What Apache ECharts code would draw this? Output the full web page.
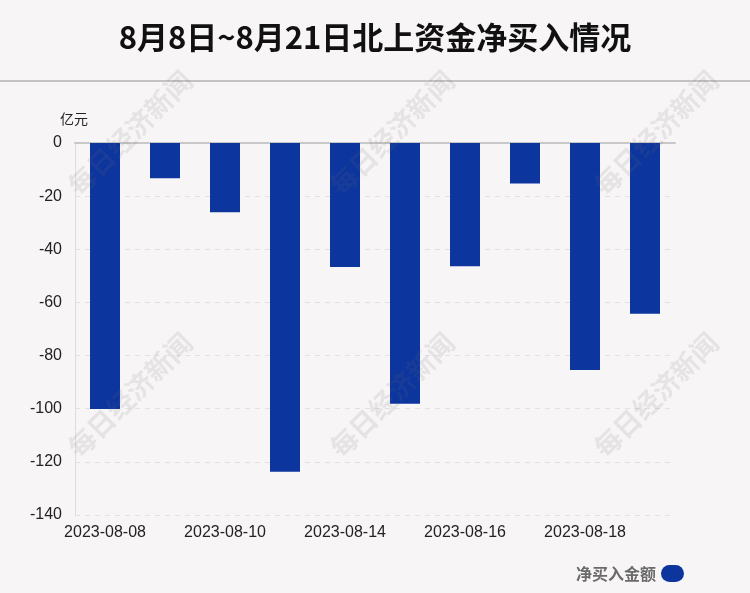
<!DOCTYPE html>
<html><head><meta charset="utf-8">
<script src="https://cdn.jsdelivr.net/npm/echarts@6/dist/echarts.min.js"></script>
<style>html,body{margin:0;padding:0;background:#f8f5f6;}#c{width:750px;height:593px;}</style>
</head><body><div id="c"></div>
<script>
const titleText = '8月8日~8月21日北上资金净买入情况';
const unitName = '亿元';
const seriesName = '净买入金额';
const categories = ['2023-08-08','2023-08-09','2023-08-10','2023-08-11','2023-08-14','2023-08-15','2023-08-16','2023-08-17','2023-08-18','2023-08-21'];
const netBuy = [-100.1, -13.3, -26.1, -123.7, -46.7, -98.1, -46.4, -15.2, -85.4, -64.3];
const watermarkText = '每日经济新闻';
const watermarkCenters = [[130,133],[392,133],[656,133],[130,395],[392,395],[656,395]];

const chart = echarts.init(document.getElementById('c'));
const graphics = [
  {type:'line', shape:{x1:0,y1:81,x2:750,y2:81}, style:{stroke:'#c4c2c3', lineWidth:2}, z:10}
];
watermarkCenters.forEach(function(c){
  graphics.push({type:'text', x:c[0], y:c[1], rotation:Math.PI/4, z:100,
    style:{text:watermarkText, fill:'rgba(110,110,110,0.13)', font:'bold 27px "Noto Sans CJK SC"', textAlign:'center', textVerticalAlign:'middle'}});
});
chart.setOption({
  backgroundColor:'#f8f5f6',
  animation:false,
  title:{text:titleText, left:'center', top:17, textStyle:{fontFamily:'"Noto Sans CJK SC"', fontWeight:'bold', fontSize:31, color:'#111'}},
  graphic:graphics,
  legend:{right:61, bottom:6, align:'right', itemWidth:23, itemHeight:17,
    icon:'path://M8.5,0 H14.5 A8.5,8.5 0 0 1 14.5,17 H8.5 A8.5,8.5 0 0 1 8.5,0 Z', data:[seriesName],
    textStyle:{fontFamily:'"Noto Sans CJK SC"', fontWeight:'bold', fontSize:16, color:'#6b6b6b'}},
  grid:{left:75, right:75, top:143, bottom:78},
  xAxis:[{type:'category', data:categories, position:'bottom',
    axisLine:{onZero:false, show:false}, axisTick:{show:false},
    axisLabel:{interval:1, margin:10, fontFamily:'"Liberation Sans"', fontSize:16, color:'#222'}},
    {type:'category', data:categories, position:'top', axisLine:{onZero:false, show:true, lineStyle:{color:'#c8c8c8', width:2}},
     axisTick:{show:false}, axisLabel:{show:false}}],
  yAxis:{type:'value', min:-140, max:0, interval:20, name:unitName,
    nameTextStyle:{fontFamily:'"Noto Sans CJK SC"', fontSize:14, color:'#222', align:'right', padding:[0,-13,0,0]}, nameGap:17,
    axisLine:{show:true, lineStyle:{color:'#dddddd'}}, axisTick:{show:false},
    axisLabel:{fontFamily:'"Liberation Sans"', fontSize:16, color:'#222', margin:13},
    splitLine:{show:true, lineStyle:{color:'#e3e0e1', type:[5,5]}}},
  series:[{name:seriesName, type:'bar', data:netBuy, barWidth:30, itemStyle:{color:'#0c359e'}}]
});
</script></body></html>
